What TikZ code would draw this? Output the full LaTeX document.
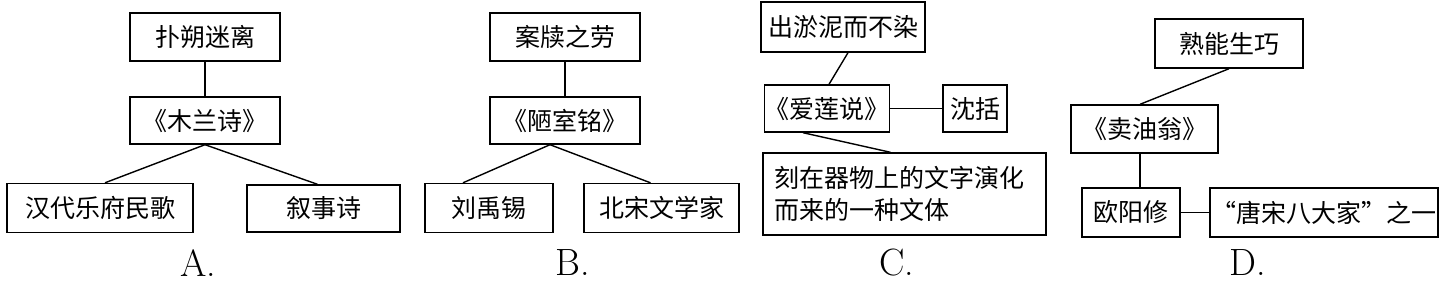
\documentclass[tikz,border=0pt]{standalone}
\usepackage{fontspec}
\newfontfamily\cjk{Noto Sans CJK SC}
\begin{document}
\begin{tikzpicture}[x=1pt,y=-1pt,
  bx/.style={draw, line width=1.4pt, inner sep=0pt, font=\cjk\fontsize{25}{32}\selectfont},
  ln/.style={line width=1.4pt},
  lab/.style={font=\fontsize{38}{40}\selectfont, inner sep=0pt}]
\useasboundingbox (0,0) rectangle (1443,285);
% A
\node[bx, minimum width=150pt, minimum height=48pt] (a1) at (205,37) {扑朔迷离};
\node[bx, minimum width=150pt, minimum height=47pt] (a2) at (205,120.5) {《木兰诗》};
\node[bx, minimum width=186pt, minimum height=49pt] (a3) at (100,208) {汉代乐府民歌};
\node[bx, minimum width=153pt, minimum height=47pt] (a4) at (323.5,208.5) {叙事诗};
\draw[ln] (a1.south) -- (a2.north);
\draw[ln] (a2.south) -- ([xshift=5pt]a3.north);
\draw[ln] (a2.south) -- ([xshift=-6pt]a4.north);
\node[lab] (la) at (198,263) {A.};
% B
\node[bx, minimum width=150pt, minimum height=48pt] (b1) at (565,37) {案牍之劳};
\node[bx, minimum width=150pt, minimum height=47pt] (b2) at (565,120.5) {《陋室铭》};
\node[bx, minimum width=128pt, minimum height=49pt] (b3) at (489,208) {刘禹锡};
\node[bx, minimum width=155pt, minimum height=49pt] (b4) at (661.5,208) {北宋文学家};
\draw[ln] (b1.south) -- (b2.north);
\draw[ln] ([xshift=-15pt]b2.south) -- ([xshift=-26pt]b3.north);
\draw[ln] ([xshift=-15pt]b2.south) -- ([xshift=-11pt]b4.north);
\node[lab] (lb) at (573,263) {B.};
% C
\node[bx, minimum width=164pt, minimum height=50pt] (c1) at (843,27) {出淤泥而不染};
\node[bx, minimum width=122pt, minimum height=47pt] (c2) at (827,108.5) {《爱莲说》};
\node[bx, minimum width=64pt, minimum height=47pt] (c3) at (975,108.5) {沈括};
\node[bx, text width=260pt, align=left, inner xsep=11.5pt, minimum height=82pt] (c4) at (904.5,194) {刻在器物上的文字演化\\而来的一种文体};
\draw[ln] ([xshift=5pt]c1.south) -- ([xshift=2pt]c2.north);
\draw[ln] (c2.east) -- (c3.west);
\draw[ln] ([xshift=-24pt]c2.south) -- ([xshift=-14pt]c4.north);
\node[lab] (lc) at (897,263) {C.};
% D
\node[bx, minimum width=148pt, minimum height=49pt] (d1) at (1229,43.5) {熟能生巧};
\node[bx, minimum width=147pt, minimum height=48pt] (d2) at (1144.5,129) {《卖油翁》};
\node[bx, minimum width=98pt, minimum height=49pt] (d3) at (1131,212.5) {欧阳修};
\node[bx, minimum width=228pt, minimum height=49pt] (d4) at (1324,212.5) {“唐宋八大家”之一};
\draw[ln] (d1.south) -- ([xshift=-4.5pt]d2.north);
\draw[ln] ([xshift=9pt]d3.north) -- ([xshift=9pt]d3.north |- d2.south);
\draw[ln] (d3.east) -- (d4.west);
\node[lab] (ld) at (1248,263) {D.};
\end{tikzpicture}
\end{document}
